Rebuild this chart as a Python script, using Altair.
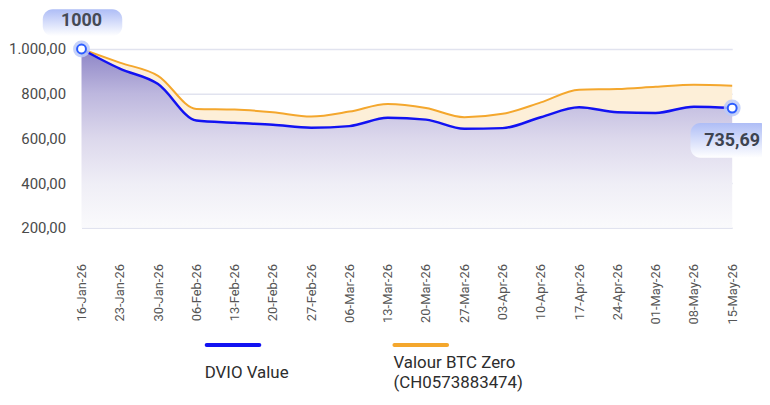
import altair as alt
import pandas as pd

# ---- data ----
dates = ["16-Jan-26", "23-Jan-26", "30-Jan-26", "06-Feb-26", "13-Feb-26", "20-Feb-26",
         "27-Feb-26", "06-Mar-26", "13-Mar-26", "20-Mar-26", "27-Mar-26", "03-Apr-26",
         "10-Apr-26", "17-Apr-26", "24-Apr-26", "01-May-26", "08-May-26", "15-May-26"]
dvio = [1000, 912, 843, 680, 670, 661, 648, 655, 692, 684, 643, 646,
        695, 739, 717, 714, 742, 735.69]
valour = [1000, 939, 880, 732, 729, 717, 698, 720, 754, 736, 695, 710,
          761, 818, 821, 831, 840, 836]
y_ticks = [200, 400, 600, 800, 1000]
series_names = ["DVIO Value", "Valour BTC Zero", "(CH0573883474)"]

df = pd.DataFrame({"i": list(range(len(dates))), "label": dates,
                   "dvio": dvio, "valour": valour})
first = df.iloc[[0]]
last = df.iloc[[-1]]
one = pd.DataFrame({"k": [0]})

FONT = "Roboto"
BLUE = "#1212f2"
ORANGE = "#f4a72d"

label_js = "[" + ",".join("'%s'" % d for d in dates) + "][datum.value]"
de_fmt = ("replace(replace(replace(format(datum.value, ',.2f'), ',', '#'), '.', ','), '#', '.')")

x_axis = alt.Axis(values=list(range(len(dates))), tickCount=len(dates),
                  labelExpr=label_js,
                  labelAngle=-90, labelPadding=36, labelFontSize=13,
                  labelColor="#555555", labelFont=FONT, grid=False,
                  labelOverlap=False, labelBound=False,
                  domain=False, ticks=False, title=None)
x_scale = alt.Scale(domain=[0, len(dates) - 1], nice=False, zero=False)
y_scale = alt.Scale(domain=[200, 1000], nice=False, zero=False)
y_axis = alt.Axis(values=y_ticks, labelExpr=de_fmt, labelFontSize=15,
                  labelColor="#4a4a4a", labelFont=FONT, labelPadding=16,
                  labelOverlap=False,
                  grid=True, gridColor="#e1e3ef", gridWidth=1.5,
                  domain=False, ticks=False, title=None)

X = alt.X("i:Q", scale=x_scale, axis=x_axis)


def Y(field):
    return alt.Y(field, scale=y_scale, axis=y_axis)


base = alt.Chart(df)

purple = alt.Gradient(gradient="linear", x1=0, x2=0, y1=0, y2=1, stops=[
    alt.GradientStop(color="#8c84c6", offset=0),
    alt.GradientStop(color="#bdb7de", offset=0.25),
    alt.GradientStop(color="#dcd8ec", offset=0.5),
    alt.GradientStop(color="#efeef6", offset=0.75),
    alt.GradientStop(color="#fafafc", offset=1),
])

area_main = base.mark_area(interpolate="monotone", color=purple).encode(
    x=X, y=Y("dvio:Q"), y2=alt.datum(200))

band = base.mark_area(interpolate="monotone", color="#fdefd8").encode(
    x=X, y=Y("valour:Q"), y2="dvio:Q")

line_orange = base.mark_line(interpolate="monotone", color=ORANGE, strokeWidth=2).encode(
    x=X, y=Y("valour:Q"))
line_blue = base.mark_line(interpolate="monotone", color=BLUE, strokeWidth=2.5).encode(
    x=X, y=Y("dvio:Q"))

ends = alt.Chart(pd.concat([first, last]))
halo = ends.mark_circle(size=290, color="#bccaf8", opacity=0.85).encode(x=X, y=Y("dvio:Q"))
dot = ends.mark_point(size=80, filled=True, fill="white", stroke="#2b5cff",
                      strokeWidth=2, opacity=1).encode(x=X, y=Y("dvio:Q"))

badge_grad = alt.Gradient(gradient="linear", x1=0, x2=0, y1=0, y2=1, stops=[
    alt.GradientStop(color="#aebdf6", offset=0),
    alt.GradientStop(color="#ffffff", offset=1),
])

badge1 = alt.Chart(first).mark_rect(
    fill=badge_grad, cornerRadius=10, xOffset=-39, x2Offset=41, yOffset=-40, y2Offset=-13
).encode(x=X, x2="i:Q", y=Y("dvio:Q"), y2="dvio:Q")
text1 = alt.Chart(first).transform_calculate(t="format(datum.dvio, 'd')").mark_text(
    dy=-28, fontSize=18, fontWeight="bold", color="#454a55", font=FONT
).encode(x=X, y=Y("dvio:Q"), text="t:N")

badge2 = alt.Chart(last).mark_rect(
    fill=badge_grad, cornerRadius=10, xOffset=-42, x2Offset=38, yOffset=15, y2Offset=50
).encode(x=X, x2="i:Q", y=Y("dvio:Q"), y2="dvio:Q")
text2 = alt.Chart(last).transform_calculate(
    t="replace(format(datum.dvio, '.2f'), '.', ',')").mark_text(
    dy=33, fontSize=18, fontWeight="bold", color="#3d4350", font=FONT
).encode(x=X, y=Y("dvio:Q"), text="t:N")

leg = alt.Chart(one)
sw1 = leg.mark_rule(color=BLUE, strokeWidth=4, strokeCap="round").encode(
    x=alt.value(126), x2=alt.value(179), y=alt.value(298))
sw2 = leg.mark_rule(color=ORANGE, strokeWidth=4, strokeCap="round").encode(
    x=alt.value(315), x2=alt.value(368), y=alt.value(298))
lt1 = leg.mark_text(align="left", baseline="middle", fontSize=17, color="#2d2d2d",
                    font=FONT, text=series_names[0]).encode(
    x=alt.value(124), y=alt.value(326))
lt2 = leg.mark_text(align="left", baseline="middle", fontSize=17, color="#2d2d2d",
                    font=FONT, text=series_names[1]).encode(
    x=alt.value(314), y=alt.value(316))
lt3 = leg.mark_text(align="left", baseline="middle", fontSize=17, color="#2d2d2d",
                    font=FONT, text=series_names[2]).encode(
    x=alt.value(314), y=alt.value(336))

chart = alt.layer(
    area_main, band, line_orange, line_blue, halo, dot,
    badge1, text1, badge2, text2, sw1, sw2, lt1, lt2, lt3
).properties(
    width=655, height=180,
    autosize=alt.AutoSizeParams(type="none"),
    padding={"left": 74, "top": 40, "right": 30, "bottom": 165},
).configure_view(stroke=None)

chart.save("out.html", embed_options={"renderer": "svg", "actions": False})
